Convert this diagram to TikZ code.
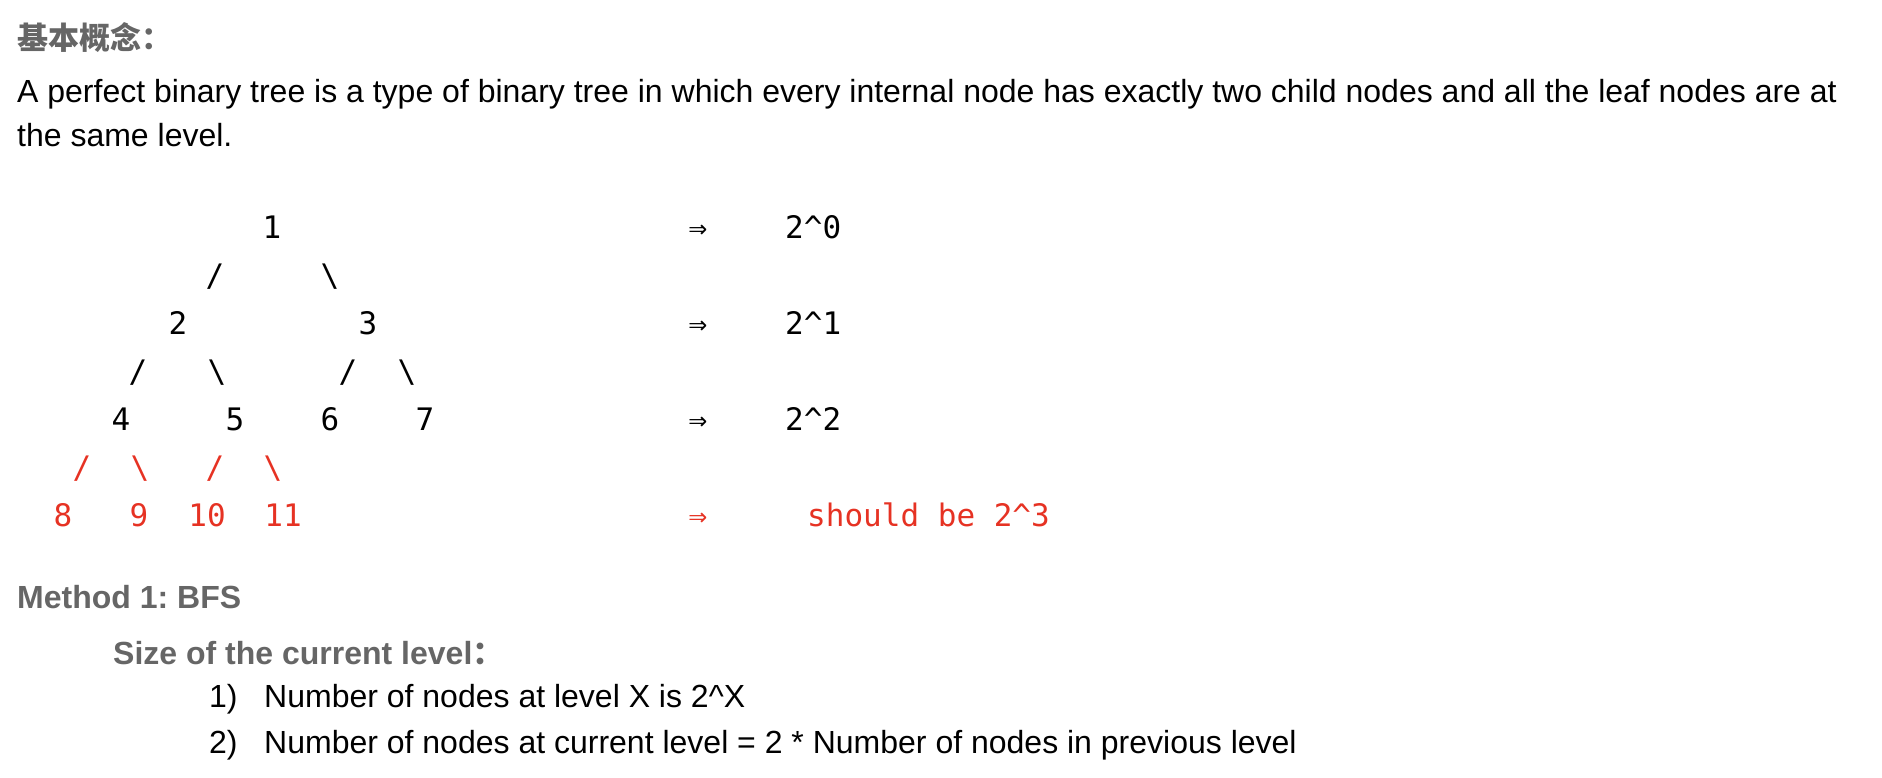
\documentclass[tikz,border=0pt]{standalone}
\usepackage{fontspec}
\setmainfont{Liberation Sans}
\newfontfamily\cjk{Noto Sans CJK SC}
\newfontfamily\mono{DejaVu Sans Mono}
\usepackage{xcolor}
\usepackage{tikz}
\definecolor{headgray}{RGB}{102,102,102}
\definecolor{leafred}{RGB}{230,50,35}

\begin{document}
\frenchspacing
\begin{tikzpicture}[
    x=1pt, y=-1pt,
    body/.style={anchor=base west, inner sep=0pt, font=\fontsize{32}{38}\selectfont},
    head/.style={body, text=headgray, font=\fontsize{32}{38}\selectfont\bfseries},
    key/.style={anchor=base, inner sep=0pt, font=\mono\fontsize{31}{36}\selectfont},
    link/.style={key},
    extra/.style={text=leafred},
    power/.style={key, anchor=base west}
]
\useasboundingbox (0,0) rectangle (1882,778);

% heading and definition
\node[head, font=\cjk\fontsize{31}{36}\selectfont\bfseries] (title) at (17,50) {基本概念：};
\node[body] (def1) at (17,103) {A perfect binary tree is a type of binary tree in which every internal node has exactly two child nodes and all the leaf nodes are at};
\node[body] (def2) at (17,147) {the same level.};

% tree, drawn as text
\node[key] (n1) at (272,238) {1};
\node[link] (e12) at (215,286) {/};
\node[link] (e13) at (330,286) {\textbackslash};
\node[key] (n2) at (178,334) {2};
\node[key] (n3) at (368,334) {3};
\node[link] (e24) at (138,382) {/};
\node[link] (e25) at (217,382) {\textbackslash};
\node[link] (e36) at (348,382) {/};
\node[link] (e37) at (407,382) {\textbackslash};
\node[key] (n4) at (121,430) {4};
\node[key] (n5) at (235,430) {5};
\node[key] (n6) at (330,430) {6};
\node[key] (n7) at (425,430) {7};
\node[link, extra] (e48) at (82,478) {/};
\node[link, extra] (e49) at (140,478) {\textbackslash};
\node[link, extra] (e510) at (215,478) {/};
\node[link, extra] (e511) at (273,478) {\textbackslash};
\node[key, extra] (n8) at (63,526) {8};
\node[key, extra] (n9) at (139,526) {9};
\node[key, extra] (n10) at (207,526) {10};
\node[key, extra] (n11) at (283,526) {11};

% node count per level
\node[key] (arr0) at (698,238) {⇒};
\node[key] (arr1) at (698,334) {⇒};
\node[key] (arr2) at (698,430) {⇒};
\node[key, extra] (arr3) at (698,526) {⇒};
\node[power] (pow0) at (785,238) {2\string^0};
\node[power] (pow1) at (785,334) {2\string^1};
\node[power] (pow2) at (785,430) {2\string^2};
\node[power, extra] (pow3) at (807,526) {should be 2\string^3};

% method
\node[head] (method) at (17,608) {Method 1: BFS};
\node[head] (size) at (113,664) {Size of the current level{\cjk：}};
\node[body] (num1) at (209,707) {1)};
\node[body] (item1) at (264,707) {Number of nodes at level X is 2\string^X};
\node[body] (num2) at (209,753) {2)};
\node[body] (item2) at (264,753) {Number of nodes at current level = 2 * Number of nodes in previous level};

\end{tikzpicture}
\end{document}
